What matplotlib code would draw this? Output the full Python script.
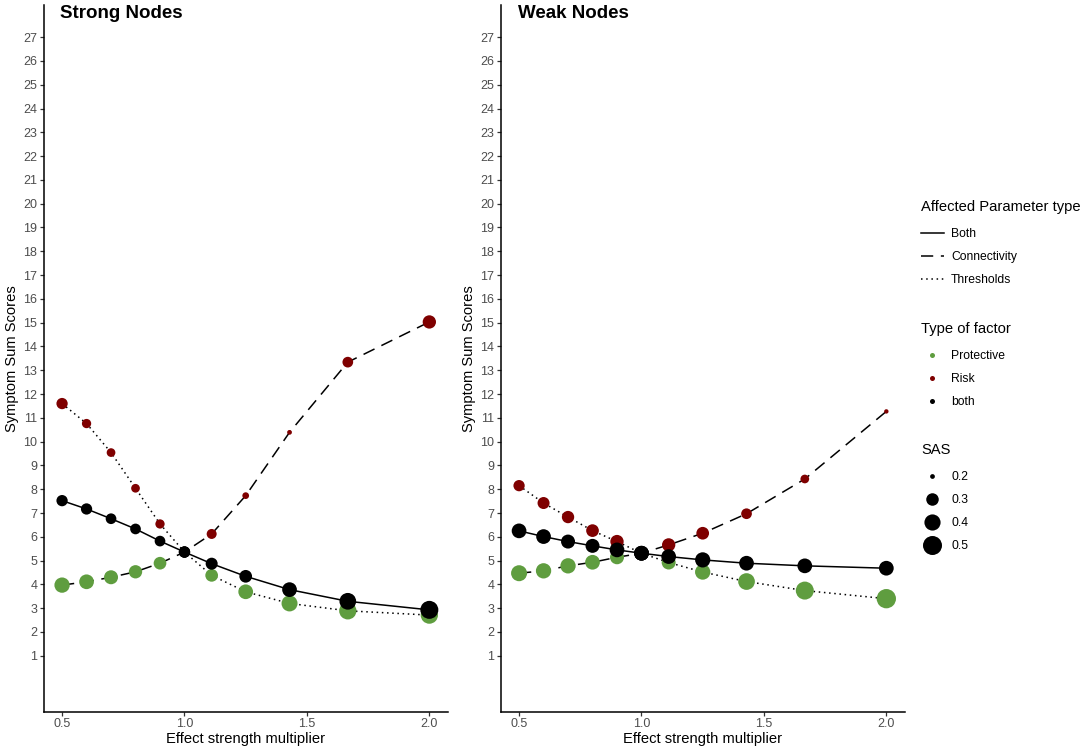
import matplotlib
matplotlib.use("Agg")
import matplotlib.pyplot as plt
from matplotlib.lines import Line2D
import numpy as np

plt.rcParams['font.family'] = ['Liberation Sans', 'DejaVu Sans']

# ---- data -------------------------------------------------------------
multiplier = [0.5, 0.6, 0.7, 0.8, 0.9, 1.0, 1.111, 1.25, 1.429, 1.667, 2.0]

param_types = ['Both', 'Connectivity', 'Thresholds']
factor_types = ['Protective', 'Risk', 'both']
sas_breaks = [0.2, 0.3, 0.4, 0.5]

# type of factor along each parameter line
factor_both = ['both'] * 11
factor_conn = ['Protective'] * 5 + ['both'] + ['Risk'] * 5
factor_thr = ['Risk'] * 5 + ['both'] + ['Protective'] * 5

# Strong nodes: symptom sum scores
strong_both = [7.52, 7.17, 6.76, 6.33, 5.82, 5.36, 4.87, 4.34, 3.78, 3.29, 2.93]
strong_conn = [3.97, 4.11, 4.30, 4.53, 4.89, 5.36, 6.12, 7.73, 10.39, 13.34, 15.03]
strong_thr = [11.60, 10.76, 9.54, 8.04, 6.54, 5.36, 4.38, 3.69, 3.20, 2.89, 2.71]
# Strong nodes: SAS
strong_both_sas = [0.274, 0.274, 0.263, 0.263, 0.263, 0.274, 0.289, 0.304, 0.356, 0.417, 0.462]
strong_conn_sas = [0.373, 0.356, 0.336, 0.319, 0.304, 0.274, 0.251, 0.211, 0.200, 0.263, 0.319]
strong_thr_sas = [0.274, 0.240, 0.232, 0.232, 0.240, 0.274, 0.304, 0.356, 0.394, 0.437, 0.437]

# Weak nodes: symptom sum scores
weak_both = [6.25, 6.01, 5.80, 5.62, 5.45, 5.31, 5.17, 5.03, 4.89, 4.78, 4.68]
weak_conn = [4.47, 4.57, 4.78, 4.93, 5.14, 5.31, 5.66, 6.15, 6.97, 8.43, 11.27]
weak_thr = [8.15, 7.42, 6.83, 6.26, 5.80, 5.31, 4.92, 4.52, 4.12, 3.74, 3.40]
# Weak nodes: SAS
weak_both_sas = [0.356, 0.356, 0.336, 0.336, 0.356, 0.356, 0.356, 0.370, 0.356, 0.356, 0.356]
weak_conn_sas = [0.394, 0.373, 0.373, 0.356, 0.336, 0.356, 0.319, 0.304, 0.263, 0.232, 0.199]
weak_thr_sas = [0.274, 0.289, 0.296, 0.304, 0.319, 0.356, 0.336, 0.373, 0.417, 0.462, 0.512]

panel_titles = ['Strong Nodes', 'Weak Nodes']

# ---- styles -----------------------------------------------------------
factor_colors = {'Protective': '#5F9D3F', 'Risk': '#7F0000', 'both': 'black'}
line_styles = {'Both': '-', 'Connectivity': (0, (8, 5)), 'Thresholds': (0, (1, 2.4))}
LW = 1.1
TICK_GREY = '#4D4D4D'
PX = 0.72  # points per pixel at dpi 100


def sas_to_diam(v):
    """area-like size scale (pixels), like ggplot scale_size"""
    t = np.clip((np.asarray(v, dtype=float) - 0.198) / 0.342, 0, None)
    return 3.5 + 16.5 * np.sqrt(t)


def draw_panel(ax, series, title, fig_x):
    for ptype, yvals, _, _ in series:
        ax.plot(multiplier, yvals, color='black', lw=LW, ls=line_styles[ptype],
                zorder=2)
    # points drawn by factor so that "both" ends on top
    for ftype in factor_types:
        xs, ys, ss = [], [], []
        for ptype, yvals, sas, factors in series:
            for x, y, s, f in zip(multiplier, yvals, sas, factors):
                if f == ftype:
                    xs.append(x)
                    ys.append(y)
                    ss.append(s)
        if xs:
            ax.scatter(xs, ys, s=(sas_to_diam(ss) * PX) ** 2,
                       color=factor_colors[ftype], linewidths=0, zorder=3)

    ax.set_xlim(0.425, 2.075)
    ax.set_ylim(-1.35, 28.35)
    ax.set_yticks(range(1, 28))
    ax.set_xticks([0.5, 1.0, 1.5, 2.0])
    ax.set_xticklabels(['0.5', '1.0', '1.5', '2.0'])
    for side in ['top', 'right']:
        ax.spines[side].set_visible(False)
    for side in ['left', 'bottom']:
        ax.spines[side].set_linewidth(1.1)
    ax.tick_params(colors='#333333', labelcolor=TICK_GREY, labelsize=9,
                   length=2.6, width=0.9, pad=2)
    ax.set_xlabel('Effect strength multiplier', fontsize=10.6, labelpad=1.5)
    ax.set_ylabel('Symptom Sum Scores', fontsize=10.6, labelpad=3)
    ax.figure.text(fig_x, 1 - 13 / 749, title, fontsize=13.5, fontweight='bold',
                   ha='left', va='center')


fig = plt.figure(figsize=(10.84, 7.49), dpi=100)
W, H = 1084, 749
ax_w = 404 / W
ax_b = 1 - 711.7 / H
ax_h = (711.7 - 5) / H
ax1 = fig.add_axes([43.7 / W, ax_b, ax_w, ax_h])
ax2 = fig.add_axes([500.7 / W, ax_b, ax_w, ax_h])

strong = [('Both', strong_both, strong_both_sas, factor_both),
          ('Connectivity', strong_conn, strong_conn_sas, factor_conn),
          ('Thresholds', strong_thr, strong_thr_sas, factor_thr)]
weak = [('Both', weak_both, weak_both_sas, factor_both),
        ('Connectivity', weak_conn, weak_conn_sas, factor_conn),
        ('Thresholds', weak_thr, weak_thr_sas, factor_thr)]

draw_panel(ax1, strong, panel_titles[0], 60 / W)
draw_panel(ax2, weak, panel_titles[1], 518 / W)

# ---- legends ----------------------------------------------------------
leg_kw = dict(frameon=False, loc='upper left', fontsize=8.7, title_fontsize=10.6,
              alignment='left', borderpad=0, borderaxespad=0, handlelength=1.9,
              handletextpad=0.6, labelspacing=0.92)

h1 = [Line2D([], [], color='black', lw=LW, ls=line_styles[p]) for p in param_types]
lg1 = fig.legend(h1, param_types, title='Affected Parameter type',
                 bbox_to_anchor=(921 / W, 1 - 200 / H), **leg_kw)

h2 = [Line2D([], [], color=factor_colors[f], marker='o', ls='', markersize=5 * PX,
             markeredgewidth=0) for f in factor_types]
lg2 = fig.legend(h2, factor_types, title='Type of factor',
                 bbox_to_anchor=(921 / W, 1 - 322 / H), **leg_kw)

h3 = [Line2D([], [], color='black', marker='o', ls='', markeredgewidth=0,
             markersize=float(sas_to_diam(v)) * PX) for v in sas_breaks]
lg3 = fig.legend(h3, [str(v) for v in sas_breaks], title='SAS',
                 bbox_to_anchor=(921 / W, 1 - 443 / H), **leg_kw)
for lg in (lg1, lg2, lg3):
    lg._legend_box.sep = 10

fig.savefig('out.png', dpi=100)
